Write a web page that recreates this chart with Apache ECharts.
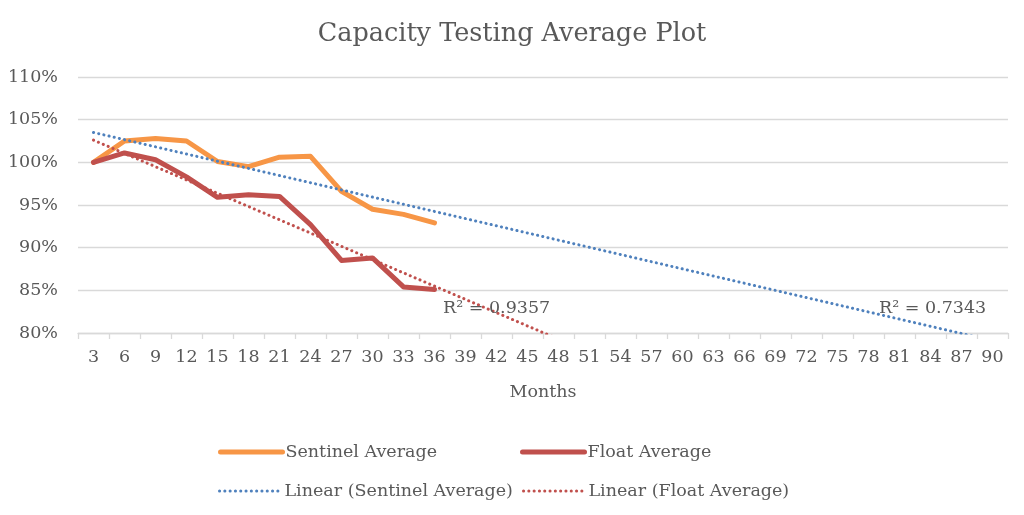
<!DOCTYPE html>
<html><head><meta charset="utf-8">
<script src="https://cdn.jsdelivr.net/npm/echarts@6/dist/echarts.min.js"></script>
<style>html,body{margin:0;padding:0;background:#fff}#c{width:1024px;height:515px}</style>
</head><body><div id="c"></div>
<script>
// Category axis labels (months)
const months = ['3','6','9','12','15','18','21','24','27','30','33','36','39','42','45','48','51','54','57','60','63','66','69','72','75','78','81','84','87','90'];
// Series values (% of initial capacity), months 3..36
const sentinelAverage = [100.0, 102.5, 102.8, 102.5, 100.1, 99.5, 100.6, 100.7, 96.6, 94.5, 93.9, 92.9];
const floatAverage = [100.0, 101.1, 100.3, 98.3, 95.9, 96.2, 96.0, 92.7, 88.5, 88.8, 85.4, 85.1];
// Linear trend lines: value at first and last month
const trendMonths = ['3', '90'];
const sentinelTrend = [103.5, 79.1];
const floatTrend = [102.6, 57.5];
const rSquared = ['R\u00B2 = 0.9357', 'R\u00B2 = 0.7343'];

const FONT = 'DejaVu Serif';
const TXT = '#595959';
const GRID = '#d9d9d9';
const DOT = [0.1, 5.2];

const chart = echarts.init(document.getElementById('c'), null, {renderer: 'canvas'});
const pair = (xs, ys) => xs.map((x, i) => [x, ys[i]]);
const legendItem = (name, left, top, lineStyle) => ({
  data: [name], left: left, top: top, orient: 'horizontal',
  itemWidth: 62, itemHeight: 14, itemGap: 0, padding: 0,
  itemStyle: {opacity: 0},
  lineStyle: lineStyle,
  textStyle: {fontFamily: FONT, fontSize: 17.5, color: TXT, padding: [0, 0, 0, -2]}
});
chart.setOption({
  backgroundColor: '#fff',
  animation: false,
  title: {
    text: 'Capacity Testing Average Plot', left: 'center', top: 16,
    textStyle: {fontFamily: FONT, fontSize: 25.5, fontWeight: 'normal', color: TXT}
  },
  grid: {left: 78, right: 16, top: 77, bottom: 182, containLabel: false},
  legend: [
    legendItem('Sentinel Average', 218, 443, {width: 5, cap: 'round'}),
    legendItem('Float Average', 520, 443, {width: 5, cap: 'round'}),
    legendItem('Linear (Sentinel Average)', 218, 482, {width: 3, type: DOT, cap: 'round'}),
    legendItem('Linear (Float Average)', 522, 482, {width: 3, type: DOT, cap: 'round'})
  ],
  xAxis: {
    type: 'category', data: months, boundaryGap: true,
    name: 'Months', nameLocation: 'middle', nameGap: 50,
    nameTextStyle: {fontFamily: FONT, fontSize: 17.5, color: TXT},
    axisLine: {lineStyle: {color: GRID, width: 1.3}},
    axisTick: {show: true, interval: 0, length: 6, lineStyle: {color: GRID, width: 1.3}},
    axisLabel: {interval: 0, margin: 15, fontFamily: FONT, fontSize: 17.5, color: TXT},
    splitLine: {show: false}
  },
  yAxis: {
    type: 'value', min: 80, max: 110, interval: 5,
    axisLine: {show: false}, axisTick: {show: false},
    axisLabel: {formatter: '{value}%', margin: 20, fontFamily: FONT, fontSize: 17.5, color: TXT},
    splitLine: {lineStyle: {color: GRID, width: 1.3}}
  },
  series: [
    {name: 'Sentinel Average', type: 'line', data: sentinelAverage, symbol: 'none', showSymbol: false,
     lineStyle: {color: '#F79646', width: 5, cap: 'round', join: 'round'}, itemStyle: {color: '#F79646'}, z: 2},
    {name: 'Float Average', type: 'line', data: floatAverage, symbol: 'none', showSymbol: false,
     lineStyle: {color: '#C0504D', width: 5, cap: 'round', join: 'round'}, itemStyle: {color: '#C0504D'}, z: 2},
    {name: 'Linear (Sentinel Average)', type: 'line', data: pair(trendMonths, sentinelTrend), symbol: 'none', showSymbol: false,
     lineStyle: {color: '#4F81BD', width: 3, type: DOT, cap: 'round'}, itemStyle: {color: '#4F81BD'}, z: 3},
    {name: 'Linear (Float Average)', type: 'line', data: pair(trendMonths, floatTrend), symbol: 'none', showSymbol: false,
     lineStyle: {color: '#C0504D', width: 3, type: DOT, cap: 'round'}, itemStyle: {color: '#C0504D'}, z: 3}
  ],
  graphic: [
    {type: 'text', left: 443, top: 299, z: 10, style: {text: rSquared[0], font: '17.5px "DejaVu Serif"', fill: TXT}},
    {type: 'text', left: 879, top: 299, z: 10, style: {text: rSquared[1], font: '17.5px "DejaVu Serif"', fill: TXT}}
  ]
});
</script></body></html>
